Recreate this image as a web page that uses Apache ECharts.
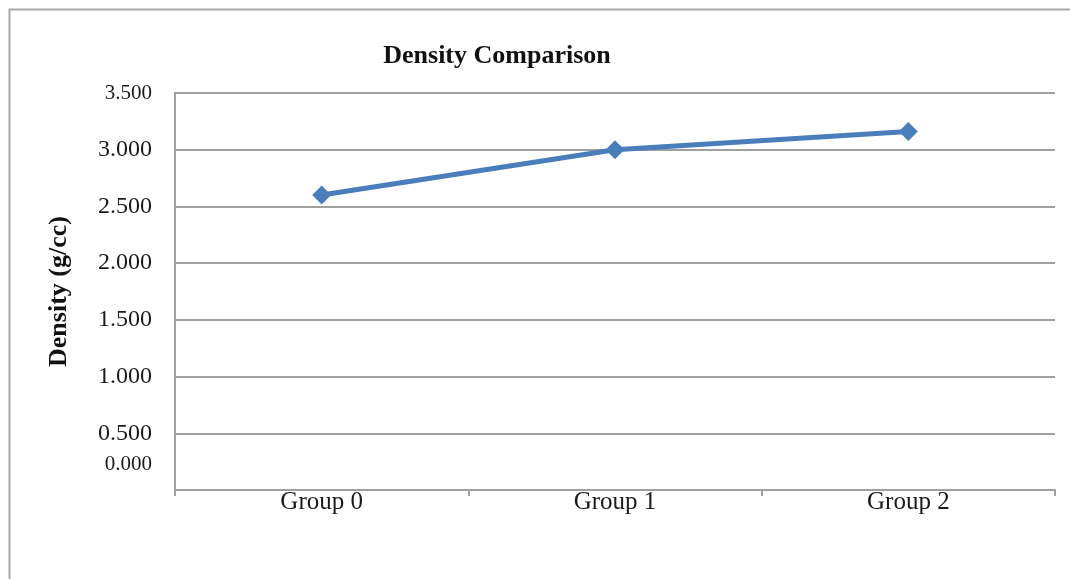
<!DOCTYPE html>
<html>
<head>
<meta charset="utf-8">
<script src="https://cdn.jsdelivr.net/npm/echarts@6/dist/echarts.min.js"></script>
<style>
  html, body { margin: 0; padding: 0; background: #ffffff; }
  #chart { width: 1070px; height: 579px; }
</style>
</head>
<body>
<div id="chart"></div>
<script>
// Density per group, g/cc
const categories = ['Group 0', 'Group 1', 'Group 2'];
const densityValues = [2.60, 3.00, 3.16];
const yTicks = { min: 0, max: 3.5, interval: 0.5 };

const serif = '"Liberation Serif", "Times New Roman", serif';
const gridGray = '#a0a0a0';
const textColor = '#1a1a1a';

const chart = echarts.init(document.getElementById('chart'));

chart.setOption({
  backgroundColor: '#ffffff',
  animation: false,
  graphic: [{
    type: 'rect',
    left: 7, top: 7,
    shape: { width: 1100, height: 620 },
    style: { fill: 'none', stroke: '#a8a8a8', lineWidth: 2 },
    silent: true
  }],
  title: {
    text: 'Density Comparison',
    left: 492, top: 38,
    textAlign: 'center',
    textStyle: { fontFamily: serif, fontWeight: 'bold', fontSize: 26, color: '#111' }
  },
  grid: { left: 175, top: 93, right: 15, bottom: 89, containLabel: false },
  xAxis: {
    type: 'category',
    data: categories,
    boundaryGap: true,
    axisLine: { lineStyle: { color: gridGray, width: 2 } },
    axisTick: { show: true, length: 6, lineStyle: { color: gridGray, width: 2 } },
    axisLabel: { fontFamily: serif, fontSize: 25, color: textColor, margin: 0 }
  },
  yAxis: {
    type: 'value',
    min: yTicks.min, max: yTicks.max, interval: yTicks.interval,
    name: 'Density (g/cc)',
    nameLocation: 'middle',
    nameGap: 103,
    nameTextStyle: { fontFamily: serif, fontWeight: 'bold', fontSize: 26, color: '#111' },
    axisLine: { show: true, lineStyle: { color: gridGray, width: 2 } },
    axisTick: { show: false },
    splitLine: { lineStyle: { color: gridGray, width: 2 } },
    axisLabel: {
      fontFamily: serif, fontSize: 24, color: textColor, margin: 23,
      formatter: function (v) {
        const s = v.toFixed(3);
        if (v === 0) return '{zero|' + s + '}';
        if (v === yTicks.max) return '{top|' + s + '}';
        return s;
      },
      rich: {
        zero: { fontFamily: serif, fontSize: 21, color: textColor, padding: [0, 0, 52, 0] },
        top: { fontFamily: serif, fontSize: 21, color: textColor }
      }
    }
  },
  series: [{
    type: 'line',
    data: densityValues,
    symbol: 'diamond',
    symbolSize: 19,
    lineStyle: { color: '#4a7ebb', width: 5 },
    itemStyle: { color: '#4a7ebb' }
  }]
});
</script>
</body>
</html>
